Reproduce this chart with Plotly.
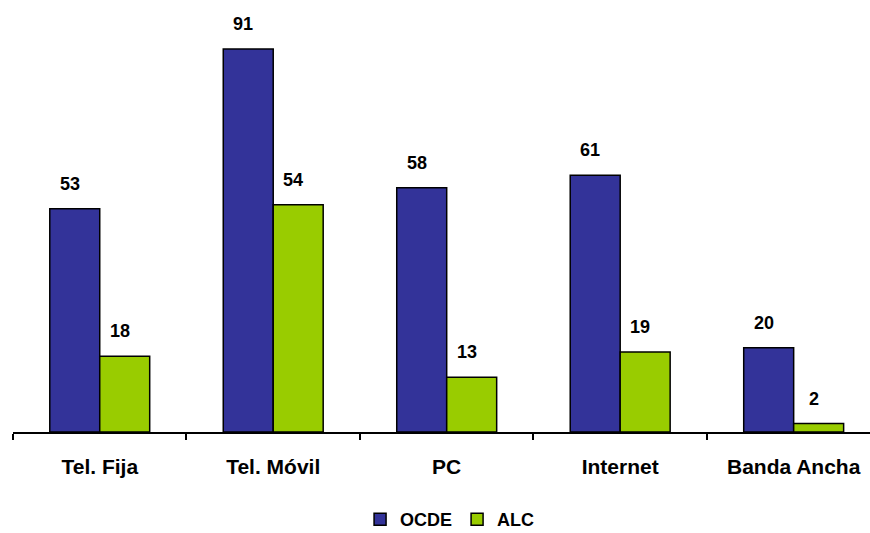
import plotly.graph_objects as go

categories = ["Tel. Fija", "Tel. Móvil", "PC", "Internet", "Banda Ancha"]
ocde = [53, 91, 58, 61, 20]
alc = [18, 54, 13, 19, 2]
series_names = ["OCDE", "ALC"]
colors = ["#333399", "#99CC00"]

FONT = "Liberation Sans, Arial, sans-serif"

fig = go.Figure()
for name, vals, col in zip(series_names, [ocde, alc], colors):
    fig.add_trace(go.Bar(
        name=f"<b>{name}</b>", x=categories, y=vals,
        marker=dict(color=col, line=dict(color="black", width=1.5)),
    ))

shifts = [-30, 20]
for vals, sh in zip([ocde, alc], shifts):
    for c, v in zip(categories, vals):
        fig.add_annotation(
            x=c, y=v, xref="x", yref="y", text=f"<b>{v}</b>",
            showarrow=False, yanchor="bottom", xanchor="center",
            xshift=sh, yshift=13,
            font=dict(family=FONT, size=18, color="black"),
        )

fig.update_layout(
    width=870, height=533,
    margin=dict(l=13, r=0, t=11, b=101, autoexpand=False),
    plot_bgcolor="white", paper_bgcolor="white",
    barmode="group", bargap=0.424, bargroupgap=0,
    showlegend=True,
    legend=dict(orientation="h", x=0.51, xanchor="center", y=-0.252, yanchor="bottom",
                font=dict(family=FONT, size=18, color="black"),
                itemwidth=30, tracegroupgap=0),
    font=dict(family=FONT, color="black"),
)
fig.update_xaxes(
    type="category", range=[-0.5, 4.44],
    showline=True, linecolor="black", linewidth=1.5,
    ticks="outside", tickson="boundaries", ticklen=6, tickcolor="black", tickwidth=1.5,
    tickfont=dict(family=FONT, size=21, color="black"),
    tickvals=categories, ticktext=[f"<b>{c}</b>" for c in categories],
    ticklabelstandoff=15,
    showgrid=False, zeroline=False,
)
fig.update_yaxes(range=[0, 100], visible=False, showgrid=False, zeroline=False)

fig.write_html("out.html")
